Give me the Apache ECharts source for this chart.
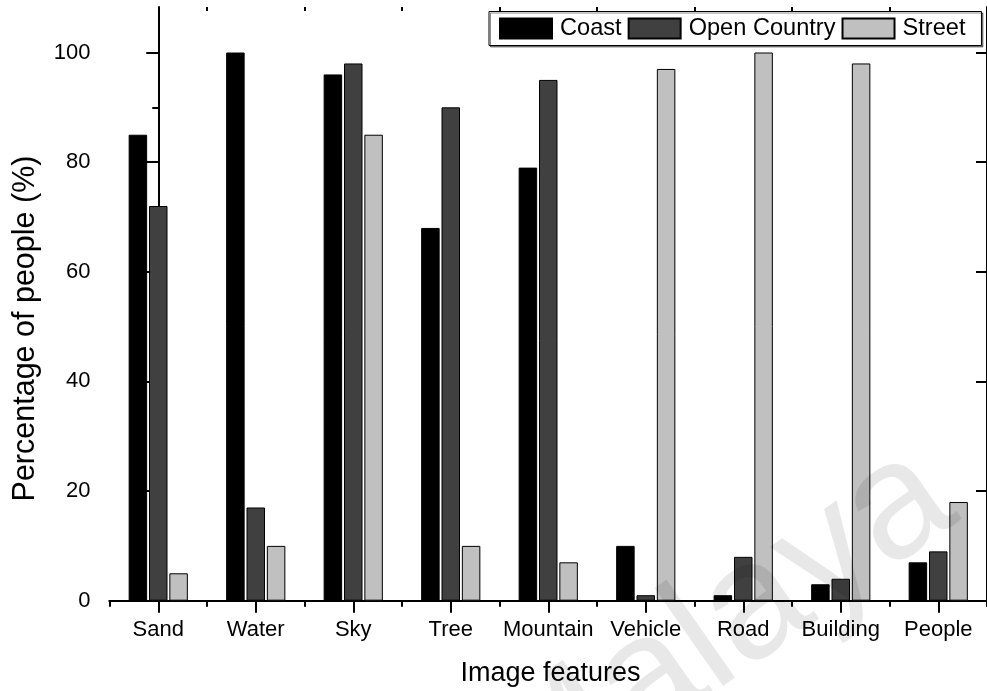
<!DOCTYPE html>
<html>
<head>
<meta charset="utf-8">
<script src="https://cdn.jsdelivr.net/npm/echarts@6/dist/echarts.min.js"></script>
<style>
  html, body { margin: 0; padding: 0; background: #ffffff; }
  #chart { width: 987px; height: 691px; }
</style>
</head>
<body>
<div id="chart"></div>
<script>
// Image features recognised per scene class (percentage of people)
const categories = ['Sand', 'Water', 'Sky', 'Tree', 'Mountain', 'Vehicle', 'Road', 'Building', 'People'];
const coast       = [85, 100, 96, 68, 79, 10, 1, 3, 7];
const openCountry = [72, 17, 98, 90, 95, 1, 8, 4, 9];
const street      = [5, 10, 85, 10, 7, 97, 100, 98, 18];
const majorTicks  = [0, 20, 40, 60, 80, 100];
const minorTicks  = [10, 30, 50, 70, 90];

const FONT = '"Liberation Sans", Arial, Helvetica, sans-serif';
const AXIS_LINE = { show: true, lineStyle: { color: '#000', width: 2 } };
const Y_MAX = 108.3;

// tick positions for the top frame axis: category centres and band edges
const topCentres = categories.map((c, i) => i);
const topEdges = categories.slice(1).map((c, i) => i + 0.5);

const chart = echarts.init(document.getElementById('chart'), null, { renderer: 'canvas' });

function barSeries(name, data, color) {
  return {
    name: name,
    type: 'bar',
    data: data,
    barWidth: 18.5,
    barGap: '10%',
    xAxisIndex: 0,
    yAxisIndex: 0,
    itemStyle: { color: color, borderColor: '#000', borderWidth: 1 },
    emphasis: { disabled: true },
    animation: false
  };
}

const option = {
  animation: false,
  backgroundColor: '#ffffff',
  textStyle: { fontFamily: FONT },
  grid: { left: 109.5, right: -4, top: 7, bottom: 90.3, containLabel: false },
  legend: {
    data: ['Coast', 'Open Country', 'Street'],
    left: 489,
    top: 11.5,
    orient: 'horizontal',
    icon: 'rect',
    itemWidth: 52,
    itemHeight: 20,
    itemGap: 6,
    padding: [5, 16, 5, 10],
    backgroundColor: '#ffffff',
    borderColor: '#000',
    borderWidth: 1,
    shadowColor: 'rgba(0,0,0,0.45)',
    shadowOffsetX: 1.5,
    shadowOffsetY: 1.5,
    shadowBlur: 0,
    selectedMode: false,
    textStyle: { fontSize: 23.6, color: '#000', fontFamily: FONT, padding: [0, 0, 0, 3] }
  },
  xAxis: [
    {
      type: 'category', position: 'bottom', data: categories,
      axisLine: AXIS_LINE,
      axisTick: { show: true, alignWithLabel: true, inside: false, length: 12, lineStyle: { color: '#000', width: 2 } },
      axisLabel: { show: true, color: '#000', fontSize: 22, fontFamily: FONT, margin: 18, interval: 0 },
      splitLine: { show: false }
    },
    {
      type: 'category', position: 'bottom', data: categories,
      axisLine: { show: false },
      axisTick: { show: true, alignWithLabel: false, inside: false, length: 6, lineStyle: { color: '#000', width: 2 } },
      axisLabel: { show: false },
      splitLine: { show: false }
    },
    {
      type: 'value', position: 'top', min: -0.5, max: categories.length - 0.5,
      axisLine: AXIS_LINE,
      axisTick: { show: true, inside: true, length: 12, customValues: topCentres, lineStyle: { color: '#000', width: 2 } },
      axisLabel: { show: false },
      splitLine: { show: false }
    },
    {
      type: 'value', position: 'top', min: -0.5, max: categories.length - 0.5,
      axisLine: { show: false },
      axisTick: { show: true, inside: true, length: 4, customValues: topEdges, lineStyle: { color: '#000', width: 2 } },
      axisLabel: { show: false },
      splitLine: { show: false }
    }
  ],
  yAxis: [
    {
      type: 'value', position: 'left', min: 0, max: Y_MAX, interval: 20,
      axisLine: AXIS_LINE,
      axisTick: { show: true, inside: false, length: 12, customValues: majorTicks, lineStyle: { color: '#000', width: 2 } },
      axisLabel: { show: true, color: '#000', fontSize: 22, fontFamily: FONT, margin: 19, customValues: majorTicks },
      splitLine: { show: false }
    },
    {
      type: 'value', position: 'left', min: 0, max: Y_MAX, interval: 20,
      axisLine: { show: false },
      axisTick: { show: true, inside: false, length: 6, customValues: minorTicks, lineStyle: { color: '#000', width: 2 } },
      axisLabel: { show: false },
      splitLine: { show: false }
    },
    {
      type: 'value', position: 'right', min: 0, max: Y_MAX, interval: 20,
      axisLine: AXIS_LINE,
      axisTick: { show: true, inside: true, length: 11, customValues: majorTicks, lineStyle: { color: '#000', width: 2 } },
      axisLabel: { show: false },
      splitLine: { show: false }
    }
  ],
  series: [
    barSeries('Coast', coast, '#000000'),
    barSeries('Open Country', openCountry, '#404040'),
    barSeries('Street', street, '#c0c0c0')
  ],
  graphic: [
    {
      type: 'text', silent: true,
      x: 25.5, y: 328.5, rotation: Math.PI / 2,
      style: { text: 'Percentage of people (%)', fill: '#000', font: '30.5px ' + FONT, align: 'center', verticalAlign: 'middle' }
    },
    {
      type: 'text', silent: true,
      x: 550.5, y: 673.3,
      style: { text: 'Image features', fill: '#000', font: '27px ' + FONT, align: 'center', verticalAlign: 'middle' }
    },
    {
      type: 'text', silent: true, z: 100,
      x: 718, y: 634, rotation: 35 * Math.PI / 180,
      style: { text: 'Malaya', fill: 'rgba(0,0,0,0.09)', font: '165px ' + FONT, align: 'center', verticalAlign: 'middle' }
    }
  ]
};

chart.setOption(option);
</script>
</body>
</html>
